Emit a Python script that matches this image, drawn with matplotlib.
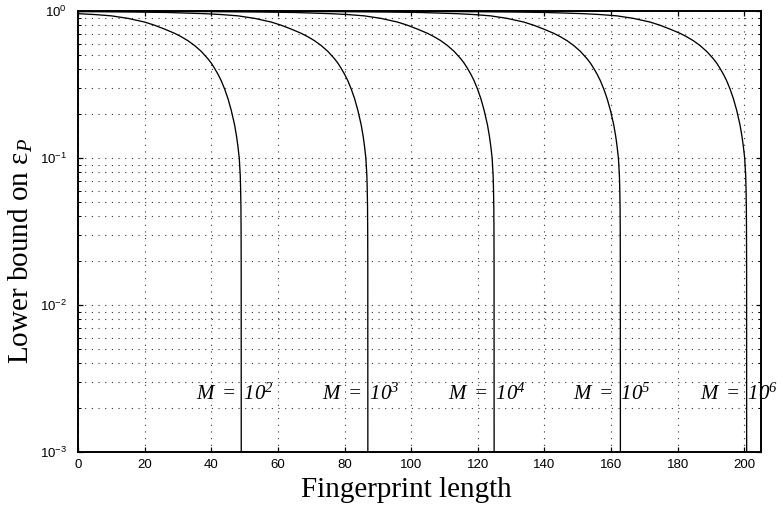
import math
import matplotlib
matplotlib.use("Agg")
import matplotlib.pyplot as plt
from matplotlib.ticker import LogLocator, FixedLocator, NullFormatter, FuncFormatter

# ---- data ----
x_m2 = [0, 5, 10, 15, 20, 23, 26, 29, 31, 33, 35, 37, 39, 40, 41, 42, 43, 44, 45, 46, 47,
        47.6, 48, 48.4, 48.7, 48.8, 48.9, 48.95, 48.98, 49.0]
y_m2 = [0.959, 0.946, 0.927, 0.891, 0.841, 0.800, 0.753, 0.705, 0.668, 0.628, 0.582, 0.531,
        0.473, 0.442, 0.407, 0.372, 0.335, 0.295, 0.254, 0.211, 0.168, 0.140, 0.120, 0.100,
        0.076, 0.063, 0.047, 0.032, 0.018, 0.0005]

x_m3 = [0, 17, 27, 38, 43, 48, 53, 58, 61, 64, 67, 69, 71, 73, 75, 77, 78, 79, 80, 81, 82,
        83, 84, 85, 85.6, 86, 86.4, 86.7, 86.8, 86.9, 86.95, 86.98, 87.0]
y_m3 = [0.991, 0.984, 0.977, 0.959, 0.946, 0.927, 0.891, 0.841, 0.800, 0.753, 0.705, 0.668,
        0.628, 0.582, 0.531, 0.473, 0.442, 0.407, 0.372, 0.335, 0.295, 0.254, 0.211, 0.168,
        0.140, 0.120, 0.100, 0.076, 0.063, 0.047, 0.032, 0.018, 0.0005]

x_m4 = [0, 37.9, 54.9, 64.9, 75.9, 80.9, 85.9, 90.9, 95.9, 98.9, 101.9, 104.9, 106.9, 108.9,
        110.9, 112.9, 114.9, 115.9, 116.9, 117.9, 118.9, 119.9, 120.9, 121.9, 122.9, 123.5,
        123.9, 124.3, 124.6, 124.7, 124.8, 124.85, 124.88, 124.9]
y_m4 = [0.996, 0.991, 0.984, 0.977, 0.959, 0.946, 0.927, 0.891, 0.841, 0.800, 0.753, 0.705,
        0.668, 0.628, 0.582, 0.531, 0.473, 0.442, 0.407, 0.372, 0.335, 0.295, 0.254, 0.211,
        0.168, 0.140, 0.120, 0.100, 0.076, 0.063, 0.047, 0.032, 0.018, 0.0005]

x_m5 = [0, 52.8, 75.8, 92.8, 102.8, 113.8, 118.8, 123.8, 128.8, 133.8, 136.8, 139.8, 142.8,
        144.8, 146.8, 148.8, 150.8, 152.8, 153.8, 154.8, 155.8, 156.8, 157.8, 158.8, 159.8,
        160.8, 161.4, 161.8, 162.2, 162.5, 162.6, 162.7, 162.75, 162.78, 162.8]
y_m5 = [0.998, 0.994, 0.991, 0.984, 0.977, 0.959, 0.946, 0.927, 0.891, 0.841, 0.800, 0.753,
        0.705, 0.668, 0.628, 0.582, 0.531, 0.473, 0.442, 0.407, 0.372, 0.335, 0.295, 0.254,
        0.211, 0.168, 0.140, 0.120, 0.100, 0.076, 0.063, 0.047, 0.032, 0.018, 0.0005]

x_m6 = [0, 40.7, 90.7, 113.7, 130.7, 140.7, 151.7, 156.7, 161.7, 166.7, 171.7, 174.7, 177.7,
        180.7, 182.7, 184.7, 186.7, 188.7, 190.7, 191.7, 192.7, 193.7, 194.7, 195.7, 196.7,
        197.7, 198.7, 199.3, 199.7, 200.1, 200.4, 200.5, 200.6, 200.65, 200.68, 200.7]
y_m6 = [0.999, 0.998, 0.994, 0.991, 0.984, 0.977, 0.959, 0.946, 0.927, 0.891, 0.841, 0.800,
        0.753, 0.705, 0.668, 0.628, 0.582, 0.531, 0.473, 0.442, 0.407, 0.372, 0.335, 0.295,
        0.254, 0.211, 0.168, 0.140, 0.120, 0.100, 0.076, 0.063, 0.047, 0.032, 0.018, 0.0005]

series = [(x_m2, y_m2), (x_m3, y_m3), (x_m4, y_m4), (x_m5, y_m5), (x_m6, y_m6)]
label_exp = ["2", "3", "4", "5", "6"]
label_x = [35.5, 73.2, 111.0, 148.7, 186.7]
label_y = 2.5e-3

x_ticks = [0, 20, 40, 60, 80, 100, 120, 140, 160, 180, 200]
y_ticks = [1e-3, 1e-2, 1e-1, 1e0]

# ---- style ----
plt.rcParams["mathtext.fontset"] = "custom"
plt.rcParams["mathtext.rm"] = "Liberation Serif:italic"
plt.rcParams["mathtext.it"] = "Liberation Serif:italic"
plt.rcParams["mathtext.sf"] = "Liberation Sans"
plt.rcParams["mathtext.bf"] = "Liberation Serif:bold"
plt.rcParams["font.family"] = ["Liberation Sans", "DejaVu Sans"]

fig = plt.figure(figsize=(7.83, 5.08), dpi=100)
ax = fig.add_axes([78 / 783, 1 - 452 / 508, (761 - 78) / 783, (452 - 11) / 508])

for xs, ys in series:
    ax.plot(xs, ys, color="black", linewidth=0.95, solid_joinstyle="round")

for tx, e in zip(label_x, label_exp):
    ax.text(tx, label_y, r"$M\ =\ 10^{%s}$" % e, fontsize=15, ha="left", va="center",
            color="black")

ax.set_yscale("log")
ax.set_xlim(0, 205)
ax.set_ylim(1e-3, 1e0)

ax.xaxis.set_major_locator(FixedLocator(x_ticks))
ax.set_xticklabels([str(v) for v in x_ticks])
ax.yaxis.set_major_locator(FixedLocator(y_ticks))
ax.yaxis.set_major_formatter(FuncFormatter(
    lambda v, p: r"$\mathsf{10^{%d}}$" % round(math.log10(v))))
ax.yaxis.set_minor_locator(LogLocator(base=10, subs=range(2, 10), numticks=20))
ax.yaxis.set_minor_formatter(NullFormatter())

ax.tick_params(which="both", direction="in", top=True, right=True, colors="black")
ax.tick_params(axis="x", which="major", labelsize=9.5, pad=5)
ax.tick_params(axis="y", which="major", labelsize=9.5, pad=8)
ax.tick_params(which="major", length=3.6, width=0.9)
ax.tick_params(which="minor", length=2.2, width=0.7)

ax.grid(True, which="major", axis="both", linestyle=(0, (1, 5)), color="#333333", linewidth=0.8)
ax.grid(True, which="minor", axis="y", linestyle=(0, (1, 5)), color="#333333", linewidth=0.8)

for sp in ax.spines.values():
    sp.set_linewidth(1.4)

fig.text(406 / 783, 1 - 497 / 508, "Fingerprint length", fontsize=21,
         family="Liberation Serif", ha="center", va="baseline")
fig.text(21 / 783, 1 - 251 / 508, r"Lower bound on ε$_{P}$", fontsize=21,
         family="Liberation Serif", ha="center", va="center", rotation=90)

fig.savefig("out.png", dpi=100)
